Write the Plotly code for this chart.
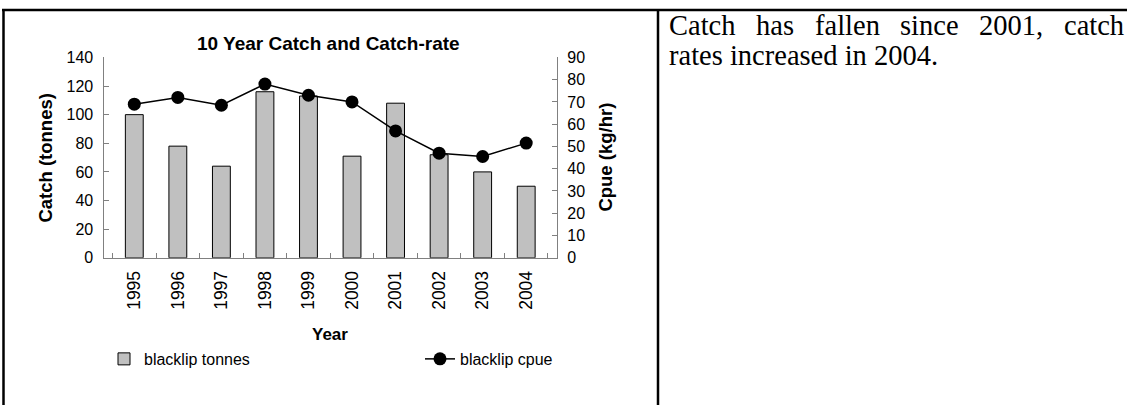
import plotly.graph_objects as go

years = ["1995", "1996", "1997", "1998", "1999", "2000", "2001", "2002", "2003", "2004"]
catch_tonnes = [100, 78, 64, 116, 113, 71, 108, 72, 60, 50]
cpue = [69, 72, 68.5, 78, 73, 70, 57, 47, 45.5, 51.5]

W, H = 1127, 414
def px(x):
    return x / W
def py(y):
    return 1 - y / H

SANS = "Liberation Sans, Arial, sans-serif"
SERIF = "Liberation Serif, Times New Roman, serif"

fig = go.Figure()
fig.add_trace(go.Bar(
    x=years, y=catch_tonnes, name="blacklip tonnes",
    marker=dict(color="#C0C0C0", line=dict(color="black", width=1)),
    width=0.41, legend="legend",
))
fig.add_trace(go.Scatter(
    x=years, y=cpue, name="blacklip cpue", yaxis="y2",
    mode="lines+markers",
    line=dict(color="black", width=1.5),
    marker=dict(color="black", size=13),
    legend="legend2",
))

TICKFONT = dict(family=SANS, size=16, color="black")
axis_common = dict(showgrid=False, zeroline=False, showline=True,
                   linecolor="#808080", linewidth=1.2,
                   ticks="inside", ticklen=5, tickcolor="#808080")

fig.update_layout(
    width=W, height=H,
    margin=dict(l=0, r=0, t=0, b=0),
    paper_bgcolor="white", plot_bgcolor="white",
    xaxis=dict(domain=[px(103.5), px(557)], tickangle=-90,
               tickson="boundaries", type="category",
               tickfont=dict(family=SANS, size=17.5, color="black"),
               ticklabelstandoff=5, **axis_common),
    yaxis=dict(domain=[py(260.5), py(51.5)], range=[0, 140], dtick=20,
               tickfont=TICKFONT, ticklabelstandoff=6, **axis_common),
    yaxis2=dict(overlaying="y", side="right", range=[0, 90], dtick=10,
                anchor="x", tickfont=TICKFONT, ticklabelstandoff=6, **axis_common),
    legend=dict(x=px(104), y=py(366), xanchor="left", yanchor="middle",
                orientation="h", font=dict(family=SANS, size=16, color="black"),
                bgcolor="rgba(0,0,0,0)", itemwidth=30),
    legend2=dict(x=px(420), y=py(366), xanchor="left", yanchor="middle",
                 orientation="h", font=dict(family=SANS, size=16, color="black"),
                 bgcolor="rgba(0,0,0,0)", itemwidth=30),
    showlegend=True,
)

annotations = [
    dict(text="<b>10 Year Catch and Catch-rate</b>", x=px(328), y=py(37),
         font=dict(family=SANS, size=19, color="black")),
    dict(text="<b>Catch (tonnes)</b>", x=px(46), y=py(156), textangle=-90,
         font=dict(family=SANS, size=18.5, color="black")),
    dict(text="<b>Cpue (kg/hr)</b>", x=px(606), y=py(156), textangle=-90,
         font=dict(family=SANS, size=18.5, color="black")),
    dict(text="<b>Year</b>", x=px(330), y=py(340),
         font=dict(family=SANS, size=17, color="black")),
]

# right-hand table cell text (first line justified, second line left-aligned)
note_size = 28.5
line1_words = ["Catch", "has", "fallen", "since", "2001,", "catch"]
line1_em = [2.333, 1.333, 2.277, 2.055, 2.25, 2.11]
left_edge, right_edge = 667, 1122
gap = (right_edge - left_edge - sum(line1_em) * note_size) / (len(line1_words) - 1)
xpos = left_edge
for w, em in zip(line1_words, line1_em):
    annotations.append(dict(text=w, x=px(xpos), y=py(18), xanchor="left",
                            font=dict(family=SERIF, size=note_size, color="black")))
    xpos += em * note_size + gap
annotations.append(dict(text="rates increased in 2004.", x=px(left_edge), y=py(49.5),
                        xanchor="left",
                        font=dict(family=SERIF, size=note_size, color="black")))

for a in annotations:
    a.setdefault("xanchor", "center")
    a.setdefault("yanchor", "middle")
    a.update(xref="paper", yref="paper", showarrow=False)
fig.update_layout(annotations=annotations)

shapes = [
    dict(type="line", x0=px(2), x1=1, y0=py(2), y1=py(2), line=dict(color="black", width=2.5)),
    dict(type="line", x0=px(3.5), x1=px(3.5), y0=py(2), y1=0, line=dict(color="black", width=2.5)),
    dict(type="line", x0=px(658), x1=px(658), y0=py(2), y1=0, line=dict(color="black", width=2.5)),
]
for s in shapes:
    s.update(xref="paper", yref="paper")
fig.update_layout(shapes=shapes)

fig.write_html(
    "out.html",
    config={"displayModeBar": False},
    post_script=(
        "document.documentElement.style.margin='0';"
        "document.body.style.margin='0';document.body.style.padding='0';"
        "document.body.style.overflow='hidden';"
        "var d=document.getElementById('{plot_id}');"
        "d.style.position='absolute';d.style.left='0px';d.style.top='0px';"
    ),
)
